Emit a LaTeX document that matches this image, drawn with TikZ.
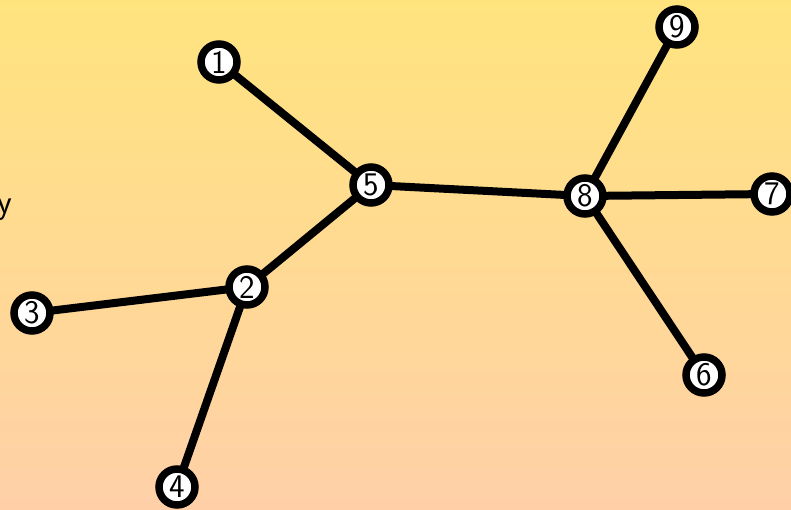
\documentclass[tikz,border=0pt]{standalone}
\usetikzlibrary{calc}
\definecolor{bgtop}{HTML}{FFE47E}
\definecolor{bgbot}{HTML}{FFD0A8}
\begin{document}
\begin{tikzpicture}[x=1pt,y=-1pt,
  vertex/.style={circle,draw=black,fill=white,line width=7.5pt,minimum size=36pt,inner sep=0pt,
    font=\sffamily\fontsize{33}{33}\selectfont},
  edge/.style={line width=8pt}]
  % background
  \shade[top color=bgtop,bottom color=bgbot] (0,0) rectangle (791,510);
  \useasboundingbox (0,0) rectangle (791,510);
  % cut-off caption letter at the left edge
  \node[anchor=base east,inner sep=0pt,font=\sffamily\fontsize{34}{34}\selectfont] (cap) at (12,214) {y};
  % vertex positions
  \coordinate (p1) at (219,62);
  \coordinate (p5) at (371,185);
  \coordinate (p8) at (585,196);
  \coordinate (p9) at (677,27);
  \coordinate (p7) at (772,194);
  \coordinate (p6) at (704,375);
  \coordinate (p2) at (247,287);
  \coordinate (p3) at (32,313);
  \coordinate (p4) at (177,487);
  % edges
  \draw[edge] (p1) -- (p5);
  \draw[edge] (p5) -- (p8);
  \draw[edge] (p5) -- (p2);
  \draw[edge] (p2) -- (p3);
  \draw[edge] (p2) -- (p4);
  \draw[edge] (p8) -- (p9);
  \draw[edge] (p8) -- (p7);
  \draw[edge] (p8) -- (p6);
  % vertices
  \node[vertex] (n1) at (p1) {1};
  \node[vertex] (n5) at (p5) {5};
  \node[vertex] (n8) at (p8) {8};
  \node[vertex] (n9) at (p9) {9};
  \node[vertex] (n7) at (p7) {7};
  \node[vertex] (n6) at (p6) {6};
  \node[vertex] (n2) at (p2) {2};
  \node[vertex] (n3) at (p3) {3};
  \node[vertex] (n4) at (p4) {4};
\end{tikzpicture}
\end{document}
